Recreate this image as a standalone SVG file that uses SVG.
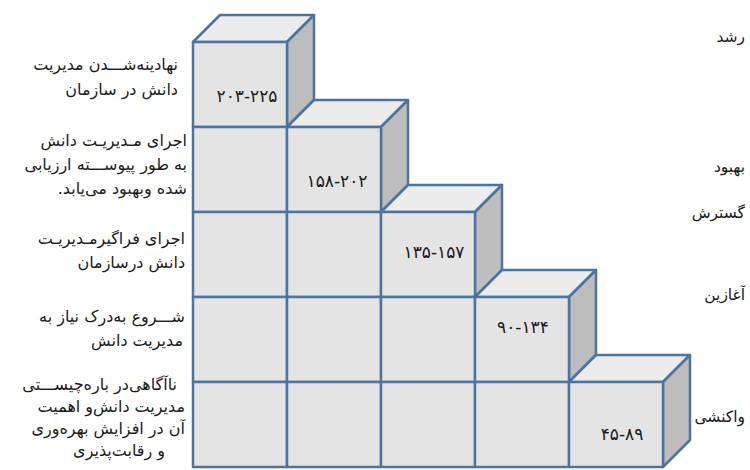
<svg xmlns="http://www.w3.org/2000/svg" width="750" height="470" viewBox="0 0 750 470">
<style>
.front{fill:#e4e4e4;stroke:#4d74a0;stroke-width:2.5;stroke-linejoin:round}
.top{fill:#ececec;stroke:#4d74a0;stroke-width:2.5;stroke-linejoin:round}
.side{fill:#bdbdbd;stroke:#4d74a0;stroke-width:2.5;stroke-linejoin:round}
.num{font-family:"DejaVu Sans",sans-serif;font-size:17px;letter-spacing:1px;fill:#1a1a1a;text-anchor:middle}
.desc{font-family:"DejaVu Sans",sans-serif;font-size:16px;fill:#1a1a1a;direction:rtl;unicode-bidi:embed;text-anchor:start}
.stage{font-family:"DejaVu Sans",sans-serif;font-size:15.5px;fill:#1a1a1a;direction:rtl;unicode-bidi:embed;text-anchor:start}
</style>
<rect width="750" height="470" fill="#ffffff"/>
<g id="connectors"/>
<g id="col1">
<polygon class="top" points="193,42 220,15 314,15 287,42"/>
<polygon class="side" points="287,42 314,15 314,100 287,127"/>
<rect class="front" x="193" y="42" width="94" height="85"/>
<rect class="front" x="193" y="127" width="94" height="85"/>
<rect class="front" x="193" y="212" width="94" height="85"/>
<rect class="front" x="193" y="297" width="94" height="85"/>
<rect class="front" x="193" y="382" width="94" height="85"/>
<text class="num" x="247" y="102">۲۰۳-۲۲۵</text>
</g>
<g id="col2">
<polygon class="top" points="287,127 314,100 408,100 381,127"/>
<polygon class="side" points="381,127 408,100 408,185 381,212"/>
<rect class="front" x="287" y="127" width="94" height="85"/>
<rect class="front" x="287" y="212" width="94" height="85"/>
<rect class="front" x="287" y="297" width="94" height="85"/>
<rect class="front" x="287" y="382" width="94" height="85"/>
<text class="num" x="337" y="187">۱۵۸-۲۰۲</text>
</g>
<g id="col3">
<polygon class="top" points="381,212 408,185 502,185 475,212"/>
<polygon class="side" points="475,212 502,185 502,270 475,297"/>
<rect class="front" x="381" y="212" width="94" height="85"/>
<rect class="front" x="381" y="297" width="94" height="85"/>
<rect class="front" x="381" y="382" width="94" height="85"/>
<text class="num" x="434" y="258">۱۳۵-۱۵۷</text>
</g>
<g id="col4">
<polygon class="top" points="475,297 502,270 596,270 569,297"/>
<polygon class="side" points="569,297 596,270 596,355 569,382"/>
<rect class="front" x="475" y="297" width="94" height="85"/>
<rect class="front" x="475" y="382" width="94" height="85"/>
<text class="num" x="523" y="333">۹۰-۱۳۴</text>
</g>
<g id="col5">
<polygon class="top" points="569,382 596,355 690,355 663,382"/>
<polygon class="side" points="663,382 690,355 690,440 663,467"/>
<rect class="front" x="569" y="382" width="94" height="85"/>
<text class="num" x="622" y="440">۴۵-۸۹</text>
</g>
<g id="desc1">
<text class="desc" x="178" y="70">نهادینه‌شـــدن مدیریت</text>
<text class="desc" x="178" y="95">دانش در سازمان</text>
</g>
<g id="desc2">
<text class="desc" x="187" y="146">اجرای مـدیریـت دانش</text>
<text class="desc" x="187" y="170">به طور پیوســـته ارزیابی</text>
<text class="desc" x="187" y="194">شده وبهبود می‌یابد.</text>
</g>
<g id="desc3">
<text class="desc" x="185" y="244">اجرای فراگیرمـدیریـت</text>
<text class="desc" x="185" y="268">دانش درسازمان</text>
</g>
<g id="desc4">
<text class="desc" x="185" y="322">شـــروع به‌درک نیاز به</text>
<text class="desc" x="183" y="346">مدیریت دانش</text>
</g>
<g id="desc5">
<text class="desc" x="177" y="390">ناآگاهی‌در باره‌چیســـتی</text>
<text class="desc" x="185" y="412">مدیریت دانش‌و اهمیت</text>
<text class="desc" x="185" y="434">آن در افزایش بهره‌وری</text>
<text class="desc" x="165" y="456">و رقابت‌پذیری</text>
</g>
<g id="stages">
<text class="stage" x="745" y="42">رشد</text>
<text class="stage" x="745" y="172">بهبود</text>
<text class="stage" x="745" y="218">گسترش</text>
<text class="stage" x="745" y="300">آغازین</text>
<text class="stage" x="745" y="422">واکنشی</text>
</g>
</svg>
